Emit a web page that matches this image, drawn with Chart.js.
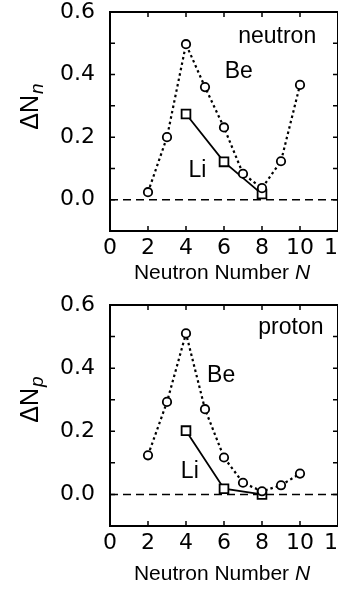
<!DOCTYPE html>
<html>
<head>
<meta charset="utf-8">
<script src="https://cdn.jsdelivr.net/npm/chart.js@4"></script>
<style>
    html, body { margin: 0; padding: 0; background: #fff; overflow: hidden; width: 338px; height: 590px; }
    canvas { display: block; }
</style>
</head>
<body>
<canvas id="neutronChart" width="346" height="295"></canvas>
<canvas id="protonChart" width="346" height="295"></canvas>
<script>
// Neutron / proton number fluctuations for Be and Li isotopes
const beN = [2, 3, 4, 5, 6, 7, 8, 9, 10];
const liN = [4, 6, 8];

const beNeutron = [0.024, 0.200, 0.497, 0.360, 0.231, 0.083, 0.037, 0.123, 0.367];
const liNeutron = [0.274, 0.121, 0.018];

const beProton = [0.124, 0.293, 0.510, 0.270, 0.117, 0.037, 0.010, 0.029, 0.066];
const liProton = [0.202, 0.018, 0.000];

const xTicks = [0, 2, 4, 6, 8, 10, 12];
const yTicks = [0.0, 0.2, 0.4, 0.6];
const yMinorTicks = [-0.1, 0.0, 0.1, 0.2, 0.3, 0.4, 0.5, 0.6];

const FONT = '"Liberation Sans", Arial, Helvetica, sans-serif';
const TICK_FONT = '"DejaVu Sans", sans-serif';

function points(xs, ys) {
    return xs.map(function (x, i) { return { x: x, y: ys[i] }; });
}

// frame, inward ticks, dashed zero line and the text annotations
const framePlugin = {
    id: 'frame',
    beforeDatasetsDraw: function (chart) {
        const ctx = chart.ctx;
        const a = chart.chartArea;
        const x = chart.scales.x;
        const y = chart.scales.y;
        ctx.save();
        ctx.strokeStyle = '#000';

        // zero line
        const y0 = y.getPixelForValue(0);
        ctx.lineWidth = 1.6;
        ctx.setLineDash([8, 5]);
        ctx.beginPath();
        ctx.moveTo(a.left, y0);
        ctx.lineTo(a.right, y0);
        ctx.stroke();
        ctx.setLineDash([]);

        // box
        ctx.lineWidth = 2;
        ctx.strokeRect(a.left, a.top, a.right - a.left, a.bottom - a.top);

        // inward ticks
        ctx.lineWidth = 1.5;
        ctx.beginPath();
        xTicks.forEach(function (v) {
            const px = x.getPixelForValue(v);
            ctx.moveTo(px, a.bottom); ctx.lineTo(px, a.bottom - 5);
            ctx.moveTo(px, a.top); ctx.lineTo(px, a.top + 5);
        });
        yMinorTicks.forEach(function (v) {
            const py = y.getPixelForValue(v);
            ctx.moveTo(a.left, py); ctx.lineTo(a.left + 5, py);
            ctx.moveTo(a.right, py); ctx.lineTo(a.right - 5, py);
        });
        ctx.stroke();
        ctx.restore();
    },
    afterDraw: function (chart) {
        const opts = chart.options.plugins.frame;
        const ctx = chart.ctx;
        const x = chart.scales.x;
        const y = chart.scales.y;
        ctx.save();
        ctx.fillStyle = '#000';

        // labels inside the plot
        ctx.font = '23px ' + FONT;
        ctx.textAlign = 'center';
        ctx.textBaseline = 'middle';
        opts.labels.forEach(function (l) {
            ctx.fillText(l.text, x.getPixelForValue(l.x), y.getPixelForValue(l.y));
        });

        // x axis title with italic N
        ctx.textBaseline = 'alphabetic';
        ctx.textAlign = 'left';
        const main = 'Neutron Number ';
        ctx.font = '21px ' + FONT;
        const w1 = ctx.measureText(main).width;
        ctx.font = 'italic 21px ' + FONT;
        const w2 = ctx.measureText('N').width;
        const cx = 222;
        const sx = cx - (w1 + w2) / 2;
        ctx.font = '21px ' + FONT;
        ctx.fillText(main, sx, opts.xTitleY);
        ctx.font = 'italic 21px ' + FONT;
        ctx.fillText('N', sx + w1, opts.xTitleY);

        // rotated y axis title: ΔN with italic subscript
        ctx.translate(38, opts.yTitleY);
        ctx.rotate(-Math.PI / 2);
        ctx.font = '25px ' + FONT;
        const b1 = ctx.measureText('\u0394N').width;
        ctx.font = 'italic 19px ' + FONT;
        const b2 = ctx.measureText(opts.sub).width;
        const start = -(b1 + b2) / 2;
        ctx.font = '25px ' + FONT;
        ctx.fillText('\u0394N', start, 0);
        ctx.font = 'italic 19px ' + FONT;
        ctx.fillText(opts.sub, start + b1 + 1, 5);
        ctx.restore();
    }
};

function makeChart(id, beData, liData, frameOpts, topPad) {
    return new Chart(document.getElementById(id), {
        type: 'line',
        data: {
            datasets: [
                {
                    label: 'Be',
                    data: points(beN, beData),
                    borderColor: '#000',
                    borderWidth: 2.2,
                    borderDash: [2.5, 3],
                    pointStyle: 'circle',
                    pointRadius: 4.2,
                    pointBorderWidth: 1.8,
                    pointBackgroundColor: '#fff',
                    pointBorderColor: '#000',
                    tension: 0
                },
                {
                    label: 'Li',
                    data: points(liN, liData),
                    borderColor: '#000',
                    borderWidth: 1.8,
                    pointStyle: 'rect',
                    pointRadius: 6.2,
                    pointBorderWidth: 1.8,
                    pointBackgroundColor: '#fff',
                    pointBorderColor: '#000',
                    tension: 0
                }
            ]
        },
        options: {
            responsive: false,
            maintainAspectRatio: false,
            animation: false,
            devicePixelRatio: 1,
            layout: { padding: { top: topPad, right: 4, left: 0, bottom: 0 } },
            plugins: {
                legend: { display: false },
                tooltip: { enabled: false },
                frame: frameOpts
            },
            scales: {
                x: {
                    type: 'linear',
                    min: 0,
                    max: 12,
                    afterFit: function (s) {
                        s.height = 64;
                        s.paddingLeft = 0;
                        s.paddingRight = 0;
                    },
                    afterBuildTicks: function (s) { s.ticks = xTicks.map(function (v) { return { value: v }; }); },
                    grid: { display: false, drawTicks: false },
                    border: { display: false },
                    ticks: {
                        autoSkip: false,
                        maxRotation: 0,
                        padding: 4,
                        color: '#000',
                        font: { family: TICK_FONT, size: 22 }
                    }
                },
                y: {
                    type: 'linear',
                    min: -0.1,
                    max: 0.6,
                    afterFit: function (s) {
                        s.width = 110;
                        s.paddingTop = 0;
                        s.paddingBottom = 0;
                    },
                    afterBuildTicks: function (s) { s.ticks = yTicks.map(function (v) { return { value: v }; }); },
                    grid: { display: false, drawTicks: false },
                    border: { display: false },
                    ticks: {
                        padding: 15,
                        color: '#000',
                        font: { family: TICK_FONT, size: 22 },
                        callback: function (v) { return Number(v).toFixed(1); }
                    }
                }
            }
        },
        plugins: [framePlugin]
    });
}

makeChart('neutronChart', beNeutron, liNeutron, {
    sub: 'n',
    xTitleY: 279,
    yTitleY: 107,
    labels: [
        { text: 'neutron', x: 8.8, y: 0.52 },
        { text: 'Be', x: 6.78, y: 0.41 },
        { text: 'Li', x: 4.6, y: 0.093 }
    ]
}, 12);

makeChart('protonChart', beProton, liProton, {
    sub: 'p',
    xTitleY: 285,
    yTitleY: 105,
    labels: [
        { text: 'proton', x: 9.52, y: 0.527 },
        { text: 'Be', x: 5.85, y: 0.377 },
        { text: 'Li', x: 4.2, y: 0.073 }
    ]
}, 10);
</script>
</body>
</html>
